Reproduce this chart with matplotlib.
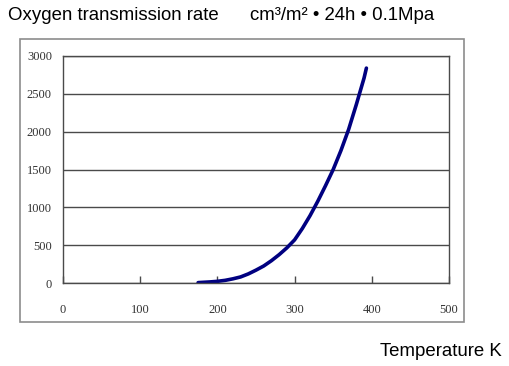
#!/usr/bin/env python3

import matplotlib
matplotlib.use("Agg")

import matplotlib.pyplot as plt
from matplotlib.patches import Rectangle

OUTPUT_FNAME = "out.png"

# temperature (K) and oxygen transmission rate
temperature = [175, 180, 190, 200, 210, 220, 230, 240, 250, 260, 270, 280,
               290, 300, 310, 320, 330, 340, 350, 360, 370, 380, 390, 393]
otr = [5, 8, 14, 22, 35, 55, 80, 120, 170, 225, 295, 375,
       465, 570, 720, 890, 1080, 1285, 1500, 1750, 2030, 2360, 2710, 2840]

x_ticks = [0, 100, 200, 300, 400, 500]
y_ticks = [0, 500, 1000, 1500, 2000, 2500, 3000]

title_left = "Oxygen transmission rate"
title_units = "cm\u00b3/m\u00b2 \u2022 24h \u2022 0.1Mpa"
x_title = "Temperature K"

W, H = 510, 366


def plot():
    fig = plt.figure(figsize=(W / 100, H / 100), dpi=100)

    # outer chart-area frame
    fig.patches.append(Rectangle((20 / W, 1 - 322 / H), 444 / W, 283 / H,
                                 transform=fig.transFigure, fill=False,
                                 edgecolor="#8c8c8c", linewidth=1.2))

    ax = fig.add_axes([63 / W, 1 - 283 / H, 386 / W, 227 / H])
    ax.plot(temperature, otr, color="#000080", linewidth=2.6,
            solid_capstyle="round", solid_joinstyle="round")

    ax.set_xlim(0, 500)
    ax.set_ylim(0, 3000)
    ax.set_xticks(x_ticks)
    ax.set_yticks(y_ticks)
    ax.yaxis.grid(True, color="#4a4a4a", linewidth=1.0)
    ax.set_axisbelow(True)
    for s in ax.spines.values():
        s.set_color("#4a4a4a")
        s.set_linewidth(1.0)

    ax.tick_params(axis="x", direction="in", length=5, width=1,
                   color="#4a4a4a", pad=15)
    ax.tick_params(axis="y", direction="in", length=0, pad=8)
    for lab in ax.get_xticklabels() + ax.get_yticklabels():
        lab.set_fontfamily("Liberation Serif")
        lab.set_fontsize(9)
        lab.set_color("#333333")

    fig.text(8 / W, 1 - 15 / H, title_left, fontsize=13.4,
             family="Liberation Sans", va="center", ha="left")
    fig.text(250 / W, 1 - 15 / H, title_units, fontsize=13.4,
             family="Liberation Sans", va="center", ha="left")
    fig.text(502 / W, 1 - 352 / H, x_title, fontsize=13.4,
             family="Liberation Sans", va="center", ha="right")

    fig.savefig(OUTPUT_FNAME, dpi=100)


def main():
    plot()


if __name__ == "__main__":
    main()
